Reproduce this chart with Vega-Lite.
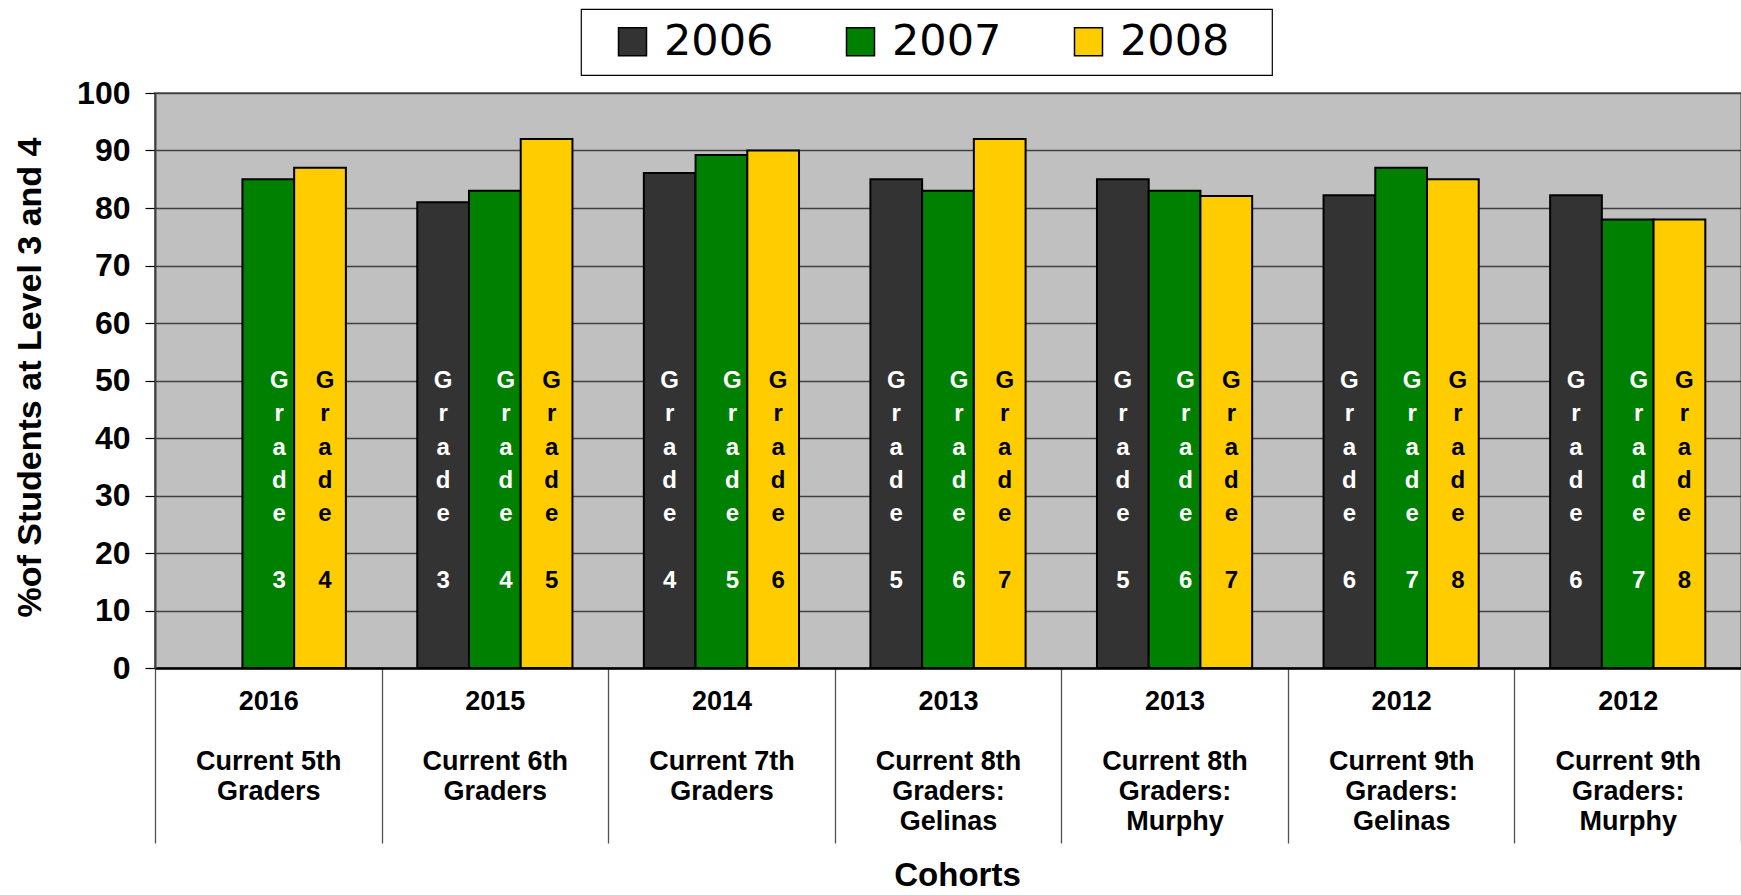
{
  "$schema": "https://vega.github.io/schema/vega-lite/v6.json",
  "width": 1586,
  "height": 575,
  "autosize": {"type": "none"},
  "padding": {"left": 155, "top": 93, "right": 0, "bottom": 227},
  "background": "white",
  "config": {
    "font": "Liberation Sans",
    "view": {"fill": "#C0C0C0", "stroke": "#808080", "strokeWidth": 2},
    "legend": {"strokeWidth": 1.2}
  },
  "data": {
    "values": [
      {"cohort": "2016|Current 5th|Graders", "year": "2007", "value": 85, "grade": 3},
      {"cohort": "2016|Current 5th|Graders", "year": "2008", "value": 87, "grade": 4},
      {"cohort": "2015|Current 6th|Graders", "year": "2006", "value": 81, "grade": 3},
      {"cohort": "2015|Current 6th|Graders", "year": "2007", "value": 83, "grade": 4},
      {"cohort": "2015|Current 6th|Graders", "year": "2008", "value": 92, "grade": 5},
      {"cohort": "2014|Current 7th|Graders", "year": "2006", "value": 86.1, "grade": 4},
      {"cohort": "2014|Current 7th|Graders", "year": "2007", "value": 89.2, "grade": 5},
      {"cohort": "2014|Current 7th|Graders", "year": "2008", "value": 90, "grade": 6},
      {"cohort": "2013|Current 8th|Graders:|Gelinas", "year": "2006", "value": 85, "grade": 5},
      {"cohort": "2013|Current 8th|Graders:|Gelinas", "year": "2007", "value": 83, "grade": 6},
      {"cohort": "2013|Current 8th|Graders:|Gelinas", "year": "2008", "value": 92, "grade": 7},
      {"cohort": "2013|Current 8th|Graders:|Murphy", "year": "2006", "value": 85, "grade": 5},
      {"cohort": "2013|Current 8th|Graders:|Murphy", "year": "2007", "value": 83, "grade": 6},
      {"cohort": "2013|Current 8th|Graders:|Murphy", "year": "2008", "value": 82.1, "grade": 7},
      {"cohort": "2012|Current 9th|Graders:|Gelinas", "year": "2006", "value": 82.2, "grade": 6},
      {"cohort": "2012|Current 9th|Graders:|Gelinas", "year": "2007", "value": 87, "grade": 7},
      {"cohort": "2012|Current 9th|Graders:|Gelinas", "year": "2008", "value": 85, "grade": 8},
      {"cohort": "2012|Current 9th|Graders:|Murphy", "year": "2006", "value": 82.2, "grade": 6},
      {"cohort": "2012|Current 9th|Graders:|Murphy", "year": "2007", "value": 78, "grade": 7},
      {"cohort": "2012|Current 9th|Graders:|Murphy", "year": "2008", "value": 78, "grade": 8}
    ]
  },
  "encoding": {
    "x": {
      "field": "cohort",
      "type": "nominal",
      "sort": null,
      "title": "Cohorts",
      "scale": {"paddingInner": 0, "paddingOuter": 0},
      "axis": {
        "labelAngle": 0,
        "labelExpr": "split(replace(datum.label, '|', '|\u2800|'), '|')",
        "labelFontSize": 27,
        "labelFontWeight": "bold",
        "labelColor": "#000",
        "labelLineHeight": 30,
        "labelBaseline": "top",
        "labelAlign": "center",
        "labelPadding": -155,
        "labelLimit": 400,
        "labelOverlap": false,
        "labelFlush": false,
        "tickBand": "extent",
        "tickSize": 175,
        "tickColor": "#505050",
        "tickWidth": 1.3,
        "domainColor": "#000",
        "domainWidth": 2.5,
        "grid": false,
        "titleFontSize": 33,
        "titleFontWeight": "bold",
        "titleColor": "#000",
        "titleX": 802,
        "titleY": 217,
        "titleAlign": "center",
        "titleBaseline": "alphabetic"
      }
    },
    "xOffset": {
      "field": "year",
      "type": "nominal",
      "scale": {"domain": ["2006", "2007", "2008"], "paddingInner": 0, "paddingOuter": 0.69}
    }
  },
  "layer": [
    {
      "mark": {"type": "bar", "stroke": "#000", "strokeWidth": 2},
      "encoding": {
        "y": {
          "field": "value",
          "type": "quantitative",
          "title": "%of Students at Level 3 and 4",
          "scale": {"domain": [0, 100], "nice": false},
          "axis": {
            "values": [0, 10, 20, 30, 40, 50, 60, 70, 80, 90, 100],
            "labelFontSize": 32,
            "labelFontWeight": "bold",
            "labelColor": "#000",
            "labelPadding": 15,
            "tickSize": 10,
            "tickColor": "#000",
            "tickWidth": 1.2,
            "domainColor": "#404040",
            "domainWidth": 2,
            "grid": true,
            "gridColor": "#404040",
            "gridWidth": 1.3,
            "gridOpacity": 1,
            "titleFontSize": 34,
            "titleFontWeight": "bold",
            "titleColor": "#000",
            "titleX": -125,
            "titleY": 284,
            "titleAngle": -90,
            "titleAlign": "center",
            "titleBaseline": "middle"
          }
        },
        "color": {
          "field": "year",
          "type": "nominal",
          "scale": {"domain": ["2006", "2007", "2008"], "range": ["#333333", "#008000", "#FFCC00"]},
          "legend": {
            "orient": "none",
            "legendX": 426,
            "legendY": -84,
            "direction": "horizontal",
            "title": " ",
            "titleOrient": "left",
            "titleFontSize": 2,
            "titlePadding": 19,
            "padding": 11,
            "strokeColor": "#000",
            "fillColor": "#fff",
            "symbolType": "square",
            "symbolSize": 784,
            "symbolStrokeColor": "#000",
            "symbolStrokeWidth": 1.5,
            "symbolOpacity": 1,
            "labelFontSize": 43,
            "labelFont": "DejaVu Sans",
            "labelColor": "#000",
            "labelOffset": 10,
            "columnPadding": 34,
            "labelExpr": "datum.label + '\u2800'",
            "labelLimit": 400
          }
        }
      }
    },
    {
      "transform": [
        {"filter": "datum.year == '2006'"},
        {"calculate": "['G','r','a','d','e','\u2800', '' + datum.grade]", "as": "lines"}
      ],
      "mark": {"type": "text", "fontSize": 24, "fontWeight": "bold", "align": "center", "baseline": "top", "lineHeight": 33.3, "dx": 0, "color": "#FFFFFF"},
      "encoding": {
        "y": {"datum": 52, "type": "quantitative", "title": "%of Students at Level 3 and 4"},
        "text": {"field": "lines"}
      }
    },
    {
      "transform": [
        {"filter": "datum.year == '2007'"},
        {"calculate": "['G','r','a','d','e','\u2800', '' + datum.grade]", "as": "lines"}
      ],
      "mark": {"type": "text", "fontSize": 24, "fontWeight": "bold", "align": "center", "baseline": "top", "lineHeight": 33.3, "dx": 11, "color": "#FFFFFF"},
      "encoding": {
        "y": {"datum": 52, "type": "quantitative", "title": "%of Students at Level 3 and 4"},
        "text": {"field": "lines"}
      }
    },
    {
      "transform": [
        {"filter": "datum.year == '2008'"},
        {"calculate": "['G','r','a','d','e','\u2800', '' + datum.grade]", "as": "lines"}
      ],
      "mark": {"type": "text", "fontSize": 24, "fontWeight": "bold", "align": "center", "baseline": "top", "lineHeight": 33.3, "dx": 5, "color": "#000000"},
      "encoding": {
        "y": {"datum": 52, "type": "quantitative", "title": "%of Students at Level 3 and 4"},
        "text": {"field": "lines"}
      }
    }
  ]
}
